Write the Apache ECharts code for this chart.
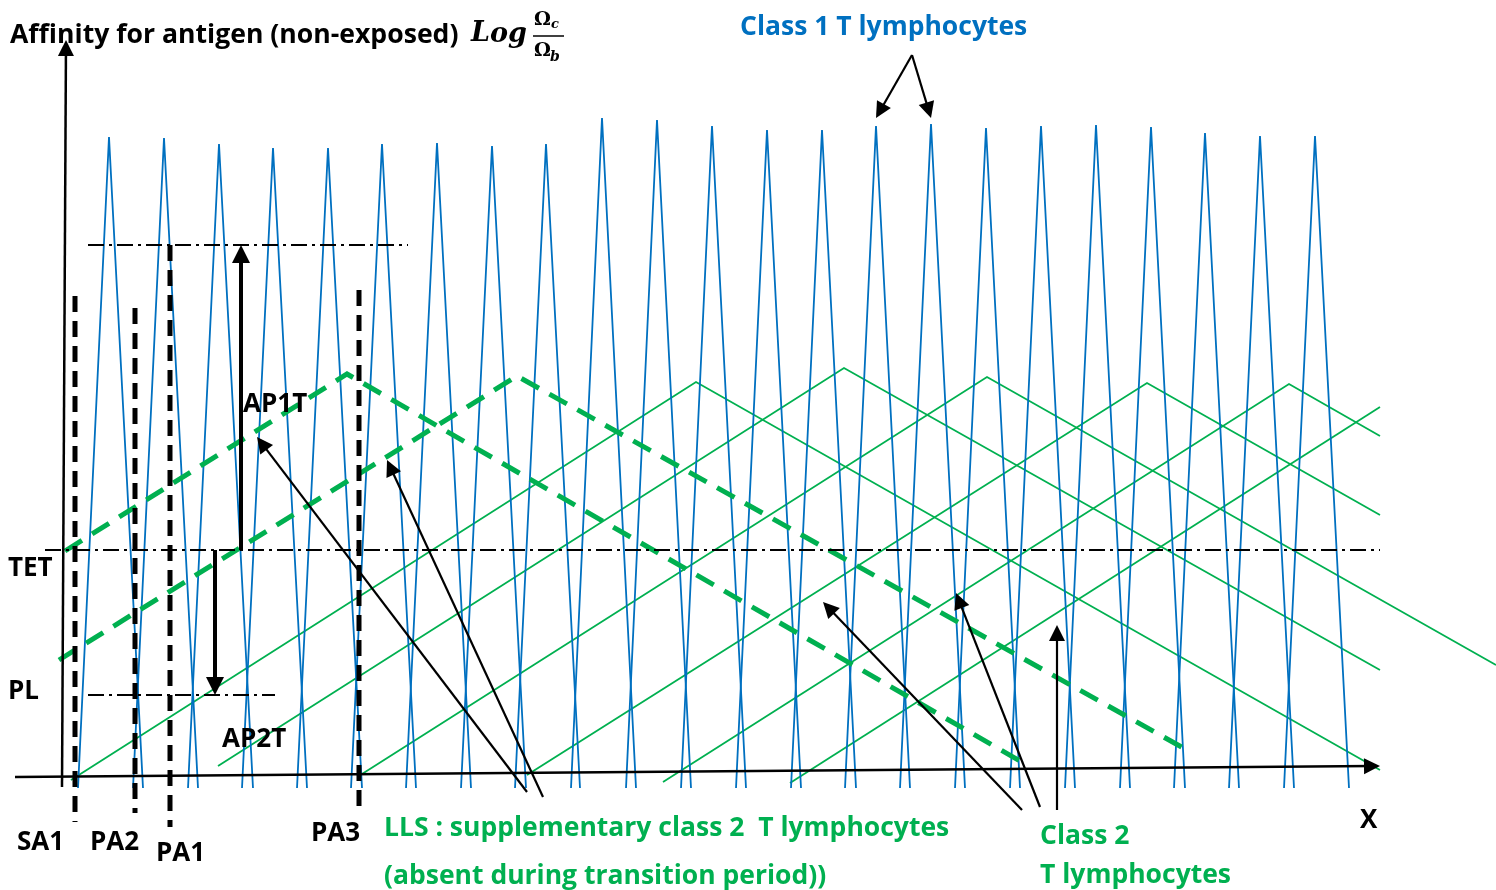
<!DOCTYPE html>
<html><head><meta charset="utf-8">
<script src="https://cdn.jsdelivr.net/npm/echarts@6/dist/echarts.min.js"></script>
<style>html,body{margin:0;padding:0;background:#fff}#c{width:1496px;height:890px}</style>
</head><body><div id="c"></div>
<script>
// ---------- DATA (diagram units: x to the right, y = affinity upward) ----------
// Class 1 T lymphocytes: narrow spikes
const spikePeakX = [109,164,219,273,328,382,437,492,546,602,657,712,767,822,876,931,986,1041,1096,1151,1205,1260,1315];
const spikePeakY = [753,752,746,742,742,746,747,744,746,772,770,764,760,760,764,766,762,764,765,763,757,754,754];
const spikeBaseY = 102;
const spikeLeftOffset = 31;
const spikeRightOffset = 34;

// Class 2 T lymphocytes: wide triangles (start, peak, end)
const class2StartX = [71,218,362,527,663,790];
const class2StartY = [110,124,116,115,108,107];
const class2PeakX  = [696,844,987,1147,1289,null];
const class2PeakY  = [508,522,513,507,506,null];
const class2EndX   = [1380,1380,1496,1380,1380,1380];
const class2EndY   = [120,220,225,375,454,483];

// LLS : supplementary class 2 T lymphocytes (dashed)
const llsStartX = [65,59];
const llsStartY = [339,230];
const llsPeakX  = [347,517];
const llsPeakY  = [516,514];
const llsEndX   = [1027,1187];
const llsEndY   = [125,140];

// Vertical markers SA1, PA2, PA1, PA3
const markerNames   = ['SA1','PA2','PA1','PA3'];
const markerX       = [75,135,170,359];
const markerTopY    = [594,582,645,600];
const markerBottomY = [68,77,63,77];

// Horizontal levels (dash-dot): upper level, TET, PL
const levelNames = ['upper','TET','PL'];
const levelY  = [645,340,195];
const levelX0 = [88,45,88];
const levelX1 = [408,1380,275];

// AP1T (up) and AP2T (down) shifts
const apNames = ['AP1T','AP2T'];
const apX     = [241,215];
const apFromY = [340,340];
const apToY   = [645,195];

// Pointer arrows (from -> to)
const pointerFromX = [527,543,1022,1040,1057,912,912];
const pointerFromY = [98,93,80,83,80,835,835];
const pointerToX   = [257,387,823,956,1057,876,931];
const pointerToY   = [453,430,288,297,265,772,772];

// Diagram axes
const xAxisFrom = [15,113], xAxisTo = [1380,124];
const yAxisFrom = [62,103], yAxisTo = [66,850];

// ---------- BUILD ----------
const BLUE = '#0070C0', GREEN = '#00B050', BLACK = '#000000';

const spikeData = spikePeakX.map((x, i) => ({
  coords: [[x - spikeLeftOffset, spikeBaseY], [x, spikePeakY[i]], [x + spikeRightOffset, spikeBaseY]]
}));
const class2Data = class2StartX.map((x, i) => {
  const c = [[x, class2StartY[i]]];
  if (class2PeakX[i] != null) c.push([class2PeakX[i], class2PeakY[i]]);
  c.push([class2EndX[i], class2EndY[i]]);
  return { coords: c };
});
const llsData = llsStartX.map((x, i) => ({
  coords: [[x, llsStartY[i]], [llsPeakX[i], llsPeakY[i]], [llsEndX[i], llsEndY[i]]]
}));
const markerData = markerX.map((x, i) => ({ coords: [[x, markerTopY[i]], [x, markerBottomY[i]]] }));
const levelData = levelY.map((y, i) => ({ coords: [[levelX0[i], y], [levelX1[i], y]] }));

function arrow(from, to, s) {
  const dx = to[0] - from[0], dy = to[1] - from[1];
  const L = Math.hypot(dx, dy);
  return { coords: [from, [to[0] - dx / L * s / 2, to[1] - dy / L * s / 2]] };
}
const AP_HEAD = 18, PTR_HEAD = 16, AX_HEAD = 16;
const apData = apX.map((x, i) => arrow([x, apFromY[i]], [x, apToY[i]], AP_HEAD));
const pointerData = pointerFromX.map((x, i) =>
  arrow([x, pointerFromY[i]], [pointerToX[i], pointerToY[i]], PTR_HEAD));
const axisData = [arrow(xAxisFrom, xAxisTo, AX_HEAD), arrow(yAxisFrom, yAxisTo, AX_HEAD)];

function linesSeries(name, data, lineStyle, extra) {
  return Object.assign({
    name, type: 'lines', coordinateSystem: 'cartesian2d', polyline: true,
    silent: true, symbol: 'none', data, lineStyle: Object.assign({ opacity: 1, curveness: 0 }, lineStyle),
    animation: false
  }, extra || {});
}

const LBL = 'bold 26px "Open Sans"';
const GRN = 'bold 26.5px "Open Sans"';
function txt(text, x, y, font, fill) {
  return { type: 'text', z: 100, style: { text, x, y, font, fill: fill || BLACK, verticalAlign: 'middle' } };
}

const option = {
  backgroundColor: '#ffffff',
  animation: false,
  grid: { left: 0, right: 0, top: 0, bottom: 0 },
  xAxis: { type: 'value', min: 0, max: 1496, show: false },
  yAxis: { type: 'value', min: 0, max: 890, show: false },
  series: [
    linesSeries('Class 2 T lymphocytes', class2Data, { color: GREEN, width: 1.8 }),
    linesSeries('Class 1 T lymphocytes', spikeData, { color: BLUE, width: 1.8 }),
    linesSeries('LLS', llsData, { color: GREEN, width: 5, type: [20, 12] }),
    linesSeries('Markers', markerData, { color: BLACK, width: 5, type: [16, 9] }),
    linesSeries('Levels', levelData, { color: BLACK, width: 2, type: [16, 5, 3, 5] }),
    linesSeries('Axes', axisData, { color: BLACK, width: 2.5 },
      { polyline: false, symbol: ['none', 'triangle'], symbolSize: AX_HEAD }),
    linesSeries('AP', apData, { color: BLACK, width: 4 },
      { polyline: false, symbol: ['none', 'triangle'], symbolSize: AP_HEAD }),
    linesSeries('Pointers', pointerData, { color: BLACK, width: 2.2 },
      { polyline: false, symbol: ['none', 'triangle'], symbolSize: PTR_HEAD })
  ],
  graphic: [
    txt('Affinity for antigen (non-exposed)', 10, 35, 'bold 26.6px "Open Sans"'),
    txt('L', 471, 34, 'bold italic 27px "DejaVu Serif"'),
    txt('o', 490, 35, 'bold italic 27px "DejaVu Serif"'),
    txt('g', 508, 35, 'bold italic 27px "DejaVu Serif"'),
    txt('\u03A9', 534, 20, 'bold 19px "DejaVu Serif"'),
    txt('c', 551, 25, 'bold italic 13px "DejaVu Serif"'),
    { type: 'line', z: 100, shape: { x1: 533, y1: 36, x2: 564, y2: 36 }, style: { stroke: BLACK, lineWidth: 1.5 } },
    txt('\u03A9', 534, 51, 'bold 19px "DejaVu Serif"'),
    txt('b', 550, 57, 'bold italic 14px "DejaVu Serif"'),
    txt('Class 1 T lymphocytes', 740, 27, GRN, BLUE),
    txt('AP1T', 243, 405, LBL),
    txt('TET', 8, 569, LBL),
    txt('PL', 8, 692, LBL),
    txt('AP2T', 222, 740, LBL),
    txt('SA1', 17, 843, LBL),
    txt('PA2', 90, 843, LBL),
    txt('PA1', 156, 854, LBL),
    txt('PA3', 311, 834, LBL),
    txt('X', 1360, 821, LBL),
    txt('LLS : supplementary class 2  T lymphocytes', 384, 828, GRN, GREEN),
    txt('(absent during transition period))', 384, 876, GRN, GREEN),
    txt('Class 2', 1040, 836, GRN, GREEN),
    txt('T lymphocytes', 1040, 875, GRN, GREEN)
  ]
};
const chart = echarts.init(document.getElementById('c'));
chart.setOption(option);
</script></body></html>
